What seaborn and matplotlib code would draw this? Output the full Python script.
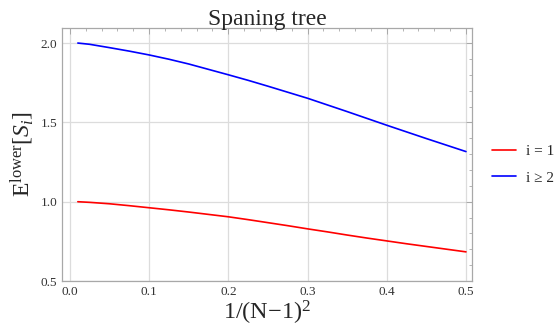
import pandas as pd
import numpy as np
import seaborn as sns
import matplotlib.pyplot as plt
from matplotlib.ticker import MultipleLocator

x = [0.01, 0.025, 0.05, 0.075, 0.10, 0.125, 0.15, 0.175, 0.20, 0.225, 0.25,
     0.275, 0.30, 0.325, 0.35, 0.375, 0.40, 0.425, 0.45, 0.475, 0.50]
e_first = [1.000, 0.996, 0.987, 0.975, 0.962, 0.949, 0.935, 0.920, 0.905, 0.887, 0.868,
           0.849, 0.829, 0.810, 0.790, 0.771, 0.753, 0.735, 0.718, 0.701, 0.684]
e_rest = [2.000, 1.992, 1.971, 1.949, 1.925, 1.898, 1.868, 1.834, 1.800, 1.765, 1.728,
          1.690, 1.652, 1.610, 1.568, 1.525, 1.482, 1.440, 1.398, 1.357, 1.316]
labels = ['i = 1', 'i \u2265 2']

df = pd.DataFrame({
    'x': x + x,
    'y': e_first + e_rest,
    'series': [labels[0]] * len(x) + [labels[1]] * len(x),
})

sns.set_style('white')
plt.rcParams['font.family'] = ['Liberation Serif', 'DejaVu Serif']
plt.rcParams['mathtext.fontset'] = 'custom'
plt.rcParams['mathtext.rm'] = 'Liberation Serif'
plt.rcParams['mathtext.it'] = 'Liberation Serif:italic'

fig = plt.figure(figsize=(5.6, 3.33), dpi=100)
ax = fig.add_axes([0.1107, 0.156, 0.732, 0.760])

sns.lineplot(data=df, x='x', y='y', hue='series', palette=['#ff0000', '#0000ff'],
             linewidth=1.2, ax=ax)

ax.set_xlim(-0.01, 0.5075)
ax.set_ylim(0.5, 2.095)
ax.xaxis.set_major_locator(MultipleLocator(0.1))
ax.xaxis.set_minor_locator(MultipleLocator(0.02))
ax.yaxis.set_major_locator(MultipleLocator(0.5))
ax.yaxis.set_minor_locator(MultipleLocator(0.1))
ax.xaxis.set_major_formatter(plt.FuncFormatter(lambda v, p: f'{v:.1f}'))
ax.yaxis.set_major_formatter(plt.FuncFormatter(lambda v, p: f'{v:.1f}'))
ax.grid(True, which='major', color='#dcdcdc', linewidth=0.9)
ax.tick_params(which='both', direction='in', top=True, right=True,
               color='#a8a8a8', labelsize=9.5, labelcolor='#333333')
ax.tick_params(which='major', length=4, width=0.7)
ax.tick_params(which='minor', length=2.5, width=0.6)
for s in ax.spines.values():
    s.set_color('#a8a8a8')
    s.set_linewidth(0.9)

ax.set_title('Spaning tree', fontsize=17, pad=2)
ax.set_xlabel('1/(N\u22121)$^{2}$', fontsize=17.5, labelpad=1)
ax.set_ylabel(r'$\mathrm{E}^{\mathrm{lower}}[S_i]$', fontsize=17, labelpad=3)

ax.legend(loc='center left', bbox_to_anchor=(1.049, 0.46), frameon=False,
          borderaxespad=0, borderpad=0,
          fontsize=11, handlelength=1.6, labelspacing=0.85, handletextpad=0.6)

fig.savefig('out.png', dpi=100)
